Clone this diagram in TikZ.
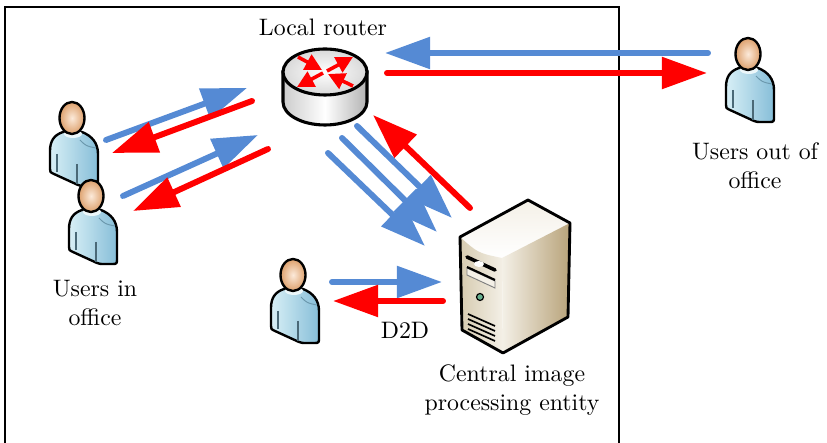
\documentclass[tikz,border=0pt]{standalone}
\usepackage{tikz}
\usetikzlibrary{arrows.meta}

\definecolor{linkBlue}{HTML}{558AD4}
\definecolor{linkRed}{HTML}{FF0000}
\definecolor{skin}{HTML}{DDA06C}
\definecolor{skinLight}{HTML}{FCEADA}
\definecolor{shirt}{HTML}{86BED8}
\definecolor{shirtLight}{HTML}{D8EFF6}
\definecolor{caseDark}{HTML}{B8A37A}
\definecolor{caseMid}{HTML}{D6CBB0}
\definecolor{caseLight}{HTML}{F4F0E7}
\definecolor{ledGreen}{HTML}{66B08F}

\tikzset{
  link/.style={line width=2.5pt, line cap=round, -{Triangle[length=19pt, width=13pt]}},
  uplink/.style={link, linkBlue},
  downlink/.style={link, linkRed},
  user/.pic={
    % torso
    \draw[line width=1pt, line join=round, left color=shirtLight, right color=shirt]
      (-9,14) .. controls (-18,17) and (-22,23) .. (-22,33) -- (-22,51)
      .. controls (-22,54) .. (-18,56) -- (6,67) .. controls (9,68) .. (14,68)
      -- (21,68) .. controls (26,68) .. (26,62) -- (26,36)
      .. controls (26,25) and (20,18) .. (10,14) -- cycle;
    \draw[shirt!55!black, line width=0.5pt] (-15,36) -- (-15,54) (5,46) -- (5,66);
    \draw[shirt!80!black, line width=0.4pt] (8,22) .. controls (14,28) .. (24,30);
    \fill[shirtLight!50!white] (1,16) ellipse[x radius=9, y radius=4];
    % head
    \draw[line width=1pt, inner color=skinLight, outer color=skin]
      (0,0) ellipse[x radius=12.5, y radius=16];
  },
  router/.pic={
    % cylinder body
    \draw[line width=1.3pt, left color=gray!40, right color=gray!60, middle color=white]
      (-42,0) -- (-42,30) .. controls (-42,42.7) and (-23.2,53) .. (0,53)
      .. controls (23.2,53) and (42,42.7) .. (42,30) -- (42,0) -- cycle;
    % lid
    \draw[line width=1.3pt, inner color=white, outer color=gray!30]
      (0,0) ellipse[x radius=42, y radius=23];
    % crossing arrows on the lid
    \foreach \sx/\sy/\ex/\ey in {2/-1/28/-15, -2/1/-28/15, -27/-15/-3/-2, 28/14/3/2}
      \draw[linkRed, line width=1.5pt, -{Triangle[length=7pt, width=7pt]}] (\sx,\sy) -- (\ex,\ey);
  }
}

\begin{document}
\begin{tikzpicture}[x=0.42pt, y=-0.42pt]
  \useasboundingbox (0,0) rectangle (827,443);

  % office walls, open at the bottom
  \draw[line width=0.7pt] (5,443) |- (619,7) -- (619,443);

  % router and people
  \pic (rt) at (325,72) {router};
  \pic (in1) at (72,118) {user};
  \pic (in2) at (91,196) {user};
  \pic (d2d) at (293,275) {user};
  \pic (out) at (748,54) {user};

  % server tower
  \shade[top color=caseLight, bottom color=white]
    (460,237) -- (528,200) -- (570,223) -- (502,258) .. controls (478,253) .. cycle;
  \shade[left color=caseMid, right color=caseLight]
    (460,237) .. controls (478,253) .. (502,258) -- (503,353) -- (462,330) -- cycle;
  \shade[left color=caseLight, right color=caseDark]
    (502,258) -- (570,223) -- (568,317) -- (503,353) -- cycle;
  \draw[line width=1.2pt, line join=round]
    (460,237) -- (528,200) -- (570,223) -- (568,317) -- (503,353) -- (462,330) -- cycle;
  \draw[line width=1.5pt, line cap=round] (467,257) -- (495,270);
  \fill[white] (479,264) ellipse[x radius=5, y radius=3];
  \draw[gray, fill=caseLight, line width=0.4pt] (467,268) -- (495,281) -- (495,288) -- (467,275) -- cycle;
  \draw[line width=0.9pt] (467,267) -- (495,280);
  \draw[line width=0.5pt, fill=ledGreen] (480,297) circle[radius=3.5];
  \foreach \k in {0,...,3}
    \draw[line width=0.7pt] (468,314+5*\k) -- (495,326+5*\k);

  % labels
  \node (lblRt) at (323,27) {Local router};
  \node[align=center] (lblOut) at (755,166) {Users out of\\office};
  \node[align=center] (lblIn) at (95,303) {Users in\\office};
  \node (lblD2D) at (405,330) {D2D};
  \node[align=center] (lblSrv) at (512,390) {Central image\\processing entity};

  % end points of the links
  \foreach \n/\p in {o1/{708,53}, r1/{385,53}, r2/{387,73}, o2/{707,73},
                     u1/{106,140}, r3/{247,88}, r4/{252,101}, u2/{112,153},
                     u3/{123,196}, r5/{258,135}, r6/{268,149}, u4/{133,211},
                     r7/{328,153}, s1/{425,246}, r8/{342,138}, s2/{437,232},
                     r9/{357,126}, s3/{452,218}, s4/{470,208}, r10/{373,115},
                     d1/{332,282}, s5/{442,282}, s6/{443,301}, d2/{333,301}}
    \coordinate (\n) at (\p);

  % router and the outside user
  \draw[uplink] (o1) -- (r1);
  \draw[downlink] (r2) -- (o2);
  % office users and router
  \draw[uplink] (u1) -- (r3);
  \draw[downlink] (r4) -- (u2);
  \draw[uplink] (u3) -- (r5);
  \draw[downlink] (r6) -- (u4);
  % router and server
  \draw[uplink] (r7) -- (s1);
  \draw[uplink] (r8) -- (s2);
  \draw[uplink] (r9) -- (s3);
  \draw[downlink] (s4) -- (r10);
  % direct link
  \draw[uplink] (d1) -- (s5);
  \draw[downlink] (s6) -- (d2);
\end{tikzpicture}
\end{document}
